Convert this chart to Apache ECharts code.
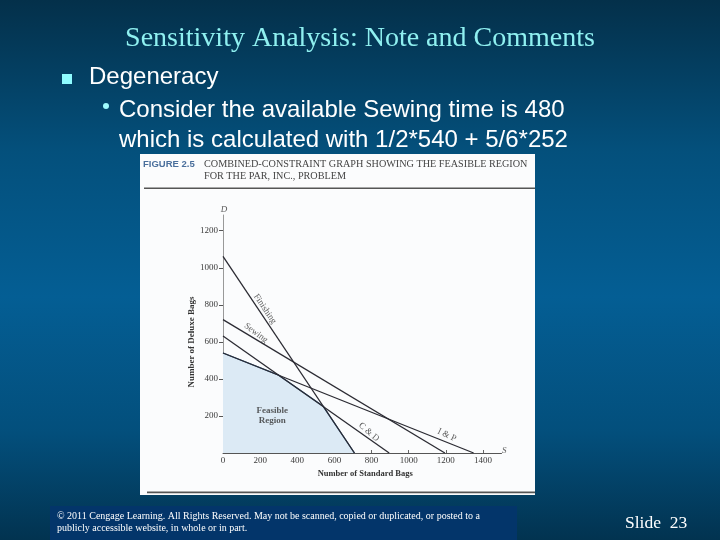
<!DOCTYPE html>
<html>
<head>
<meta charset="utf-8">
<style>html,body{margin:0;padding:0;background:#03456b}#main{width:720px;height:540px}</style>
<script src="https://cdn.jsdelivr.net/npm/echarts@6/dist/echarts.min.js"></script>
</head>
<body>
<div id="main"></div>
<script>
var xTicks = [0, 200, 400, 600, 800, 1000, 1200, 1400];
var yTicks = [200, 400, 600, 800, 1000, 1200];
var feasibleRegion = [[0, 540], [300, 420], [540, 252], [708, 0]];
var finishing = [[0, 1062], [708, 0]];
var sewing = [[0, 720], [1195, 0]];
var cuttingDyeing = [[0, 632], [895, 0]];
var inspectionPacking = [[0, 540], [1350, 0]];
var lineLabels = [
  { name: "Finishing", value: [226, 778], rot: -56 },
  { name: "Sewing", value: [178, 648], rot: -37 },
  { name: "C & D", value: [786, 113], rot: -41 },
  { name: "I & P", value: [1206, 97], rot: -25 },
];
var axisLetters = [
  { name: "D", value: [5, 1315] },
  { name: "S", value: [1515, 15] },
];
var regionLabel = ["Feasible", "Region"];
var regionPoint = [[265, 227], [265, 173]];

var myChart = echarts.init(document.getElementById("main"), null, { renderer: "canvas" });
var serif = "Liberation Serif";
var sans = "Liberation Sans";
var ink = "#3a3a3a";
var textShadow = { shadowColor: "#012", shadowBlur: 1, shadowOffsetX: 1, shadowOffsetY: 1 };

function constraint(data, color) {
  return {
    type: "line",
    data: data,
    symbol: "none",
    silent: true,
    z: 5,
    lineStyle: { color: color || "#2b2b33", width: 1.3 },
  };
}

function bodyText(x, y, text) {
  return {
    type: "text",
    z: 2,
    style: Object.assign({ x: x, y: y, text: text, verticalAlign: "middle", font: "24px " + sans, fill: "#fff" }, textShadow),
  };
}

// the figure prints its ticks without thousands separators
function plainNumber(v) {
  return String(v);
}

var option = {
  animation: false,
  backgroundColor: {
    type: "linear", x: 0, y: 0, x2: 0, y2: 1,
    colorStops: [
      { offset: 0, color: "#04304a" },
      { offset: 0.28, color: "#04507c" },
      { offset: 0.55, color: "#045e94" },
      { offset: 0.8, color: "#034f7c" },
      { offset: 1, color: "#023350" },
    ],
  },
  graphic: [
    { type: "rect", z: 0, shape: { x: 140, y: 154, width: 395, height: 341 }, style: { fill: "#fbfcfd" } },
    { type: "rect", z: 1, shape: { x: 144, y: 187.5, width: 391, height: 1.6 }, style: { fill: "#555" } },
    { type: "rect", z: 1, shape: { x: 147, y: 491.5, width: 388, height: 1.8 }, style: { fill: "#555" } },
    { type: "rect", z: 0, shape: { x: 50, y: 506, width: 467, height: 34 }, style: { fill: "#03356a" } },
    { type: "rect", z: 2, shape: { x: 62, y: 74, width: 10, height: 10 }, style: { fill: "#8ffcff" } },
    { type: "circle", z: 2, shape: { cx: 106, cy: 106, r: 3 }, style: { fill: "#9ffcff" } },
    { type: "text", z: 2, style: { x: 360, y: 39, text: "Sensitivity Analysis: Note and Comments", align: "center", verticalAlign: "middle", font: "28px " + serif, fill: "#8ff0f0" } },
    bodyText(89, 77, "Degeneracy"),
    bodyText(119, 110, "Consider the available Sewing time is 480"),
    bodyText(119, 140, "which is calculated with 1/2*540 + 5/6*252"),
    { type: "text", z: 2, style: { x: 143, y: 164, text: "FIGURE 2.5", verticalAlign: "middle", font: "bold 9.5px " + sans, fill: "#4a6f9c" } },
    { type: "text", z: 2, style: { x: 204, y: 164, text: "COMBINED-CONSTRAINT GRAPH SHOWING THE FEASIBLE REGION", verticalAlign: "middle", font: "10.2px " + serif, fill: "#444" } },
    { type: "text", z: 2, style: { x: 204, y: 176, text: "FOR THE PAR, INC., PROBLEM", verticalAlign: "middle", font: "10.2px " + serif, fill: "#444" } },
    { type: "text", z: 2, style: { x: 57, y: 516, text: "© 2011 Cengage Learning. All Rights Reserved. May not be scanned, copied or duplicated, or posted to a", verticalAlign: "middle", font: "10px " + serif, fill: "#fff" } },
    { type: "text", z: 2, style: { x: 57, y: 528, text: "publicly accessible website, in whole or in part.", verticalAlign: "middle", font: "10px " + serif, fill: "#fff" } },
    { type: "text", z: 2, style: { x: 625, y: 523, text: "Slide  23", verticalAlign: "middle", font: "17.5px " + serif, fill: "#fff" } },
  ],
  grid: { left: 223, top: 215, width: 278.5, height: 238 },
  xAxis: {
    type: "value",
    min: 0,
    max: 1500,
    splitLine: { show: false },
    axisLine: { onZero: false, lineStyle: { color: "#555", width: 1 } },
    axisTick: { customValues: xTicks, inside: true, length: 3, lineStyle: { color: "#666" } },
    axisLabel: { customValues: xTicks, color: ink, fontFamily: serif, fontSize: 9, margin: 3, formatter: plainNumber },
    name: "Number of Standard Bags",
    nameLocation: "middle",
    nameGap: 16,
    nameTextStyle: { color: "#333", fontFamily: serif, fontSize: 8.5, fontWeight: "bold", padding: [0, 0, 0, 6] },
  },
  yAxis: {
    type: "value",
    min: 0,
    max: 1285,
    splitLine: { show: false },
    axisLine: { onZero: false, lineStyle: { color: "#999", width: 1 } },
    axisTick: { customValues: yTicks, length: 4, lineStyle: { color: "#555" } },
    axisLabel: { customValues: yTicks, color: ink, fontFamily: serif, fontSize: 9, margin: 5, formatter: plainNumber },
    name: "Number of Deluxe Bags",
    nameLocation: "middle",
    nameGap: 6,
    nameRotate: 90,
    nameTextStyle: { color: "#333", fontFamily: serif, fontSize: 9, fontWeight: "bold", padding: [0, 16, 0, 0] },
  },
  series: [
    {
      type: "line",
      data: feasibleRegion,
      symbol: "none",
      silent: true,
      z: 3,
      lineStyle: { color: "#2d5680", width: 1.3 },
      areaStyle: { color: "#dceaf5", opacity: 1 },
    },
    constraint(finishing),
    constraint(sewing),
    constraint(cuttingDyeing),
    constraint(inspectionPacking),
    {
      type: "scatter",
      symbolSize: 0,
      clip: false,
      silent: true,
      z: 6,
      data: lineLabels.map(function (d) {
        return {
          name: d.name,
          value: d.value,
          label: { rotate: d.rot },
        };
      }),
      label: {
        show: true,
        position: "inside",
        formatter: "{b}",
        color: "#333",
        fontFamily: serif,
        fontSize: 9,
      },
    },
    {
      type: "scatter",
      symbolSize: 0,
      clip: false,
      silent: true,
      z: 6,
      data: axisLetters,
      label: {
        show: true,
        position: "inside",
        formatter: "{b}",
        color: "#333",
        fontFamily: serif,
        fontStyle: "italic",
        fontSize: 9,
      },
    },
    {
      type: "scatter",
      symbolSize: 0,
      silent: true,
      z: 6,
      data: regionLabel.map(function (name, i) {
        return { name: name, value: regionPoint[i] };
      }),
      label: {
        show: true,
        position: "inside",
        formatter: "{b}",
        color: "#333",
        fontFamily: serif,
        fontWeight: "bold",
        fontSize: 9,
      },
    },
  ],
};

myChart.setOption(option);
</script>
</body>
</html>
